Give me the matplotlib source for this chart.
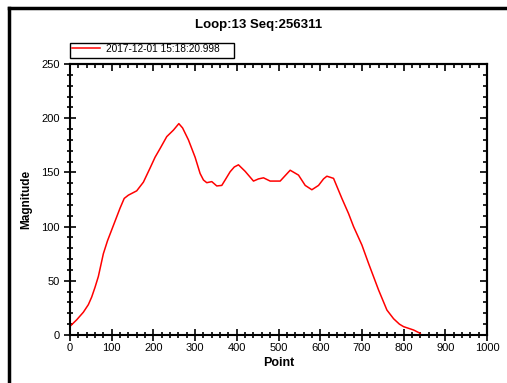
import numpy as np
import matplotlib
matplotlib.use('Agg')
import matplotlib.pyplot as plt
from matplotlib.lines import Line2D
from matplotlib.patches import Rectangle
from matplotlib.ticker import MultipleLocator

# 데이터
point = [0, 16, 32, 44, 52, 60, 68, 80, 90, 100, 110, 120, 130, 140, 150, 160, 176,
         192, 204, 216, 232, 248, 261, 270, 284, 300, 312, 320, 328, 340, 352, 364,
         372, 384, 394, 404, 420, 440, 452, 464, 480, 504, 516, 528, 548, 564, 580,
         596, 608, 616, 632, 652, 668, 680, 700, 716, 740, 760, 776, 790, 800, 824, 840]
magnitude = [8, 14, 21, 28, 35, 44, 54, 75, 87, 97, 107, 117, 126, 129, 131, 133, 141,
             154, 164, 172, 183, 189, 195, 191, 180, 164, 149, 143, 140.5, 141.5, 137.5, 138,
             143, 150.6, 155, 157, 151, 142, 144, 145, 142, 142, 147, 152, 147.5, 138, 134,
             138, 144, 146.5, 144.5, 126, 112, 100, 83, 66, 41.5, 23, 15, 10, 7.7, 4.6, 1.5]
title = 'Loop:13 Seq:256311'
legend_label = '2017-12-01 15:18:20.998'

plt.rcParams['font.family'] = ['Liberation Sans', 'DejaVu Sans']

fig = plt.figure(figsize=(5.07, 3.83), dpi=100)
W, H = 507, 383
ax = fig.add_axes([70 / W, 1 - 335 / H, (487 - 70) / W, (335 - 64) / H])

ax.plot(point, magnitude, color='red', lw=1.1)
ax.set_xlim(0, 1000)
ax.set_ylim(0, 250)

for s in ax.spines.values():
    s.set_linewidth(1.5)

# 위/오른쪽 눈금은 안쪽으로
top = ax.secondary_xaxis('top')
right = ax.secondary_yaxis('right')
for a in (ax, top):
    a.xaxis.set_major_locator(MultipleLocator(100))
    a.xaxis.set_minor_locator(MultipleLocator(20))
for a in (ax, right):
    a.yaxis.set_major_locator(MultipleLocator(50))
    a.yaxis.set_minor_locator(MultipleLocator(10))

ax.tick_params(which='both', width=1.2, labelsize=8)
ax.tick_params(which='major', direction='inout', length=8)
ax.tick_params(which='minor', direction='inout', length=5)
ax.tick_params(axis='x', pad=2)
for a in (top, right):
    a.tick_params(which='both', direction='in', width=1.2, labelleft=False, labelright=False,
                  labeltop=False, labelbottom=False)
    a.tick_params(which='major', length=5)
    a.tick_params(which='minor', length=3)
    for s in a.spines.values():
        s.set_linewidth(1.5)

ax.set_xlabel('Point', fontsize=9, fontweight='bold', labelpad=3)
ax.set_ylabel('Magnitude', fontsize=8.5, fontweight='bold', labelpad=6)
fig.text(259 / W, 1 - 25 / H, title, ha='center', va='center', fontsize=9.5, fontweight='bold')

# 범례 (테두리는 따로 그림)
leg = fig.legend(handles=[Line2D([], [], color='red', lw=1.1)], labels=[legend_label],
                 loc='upper left', bbox_to_anchor=(71 / W, 1 - 43 / H), fontsize=7.3,
                 frameon=False, borderpad=0.1, handlelength=2.8, handletextpad=0.55,
                 borderaxespad=0)
fig.add_artist(Rectangle((70 / W, 1 - 58 / H), 164 / W, 15 / H, transform=fig.transFigure,
                         fill=False, edgecolor='black', lw=1.0))

# 바깥 테두리
fig.add_artist(Line2D([9 / W, 1], [1 - 8 / H, 1 - 8 / H], color='black', lw=2.5))
fig.add_artist(Line2D([9 / W, 9 / W], [0, 1 - 8 / H], color='black', lw=2.5))

plt.savefig('out.png', dpi=100)
plt.close()
